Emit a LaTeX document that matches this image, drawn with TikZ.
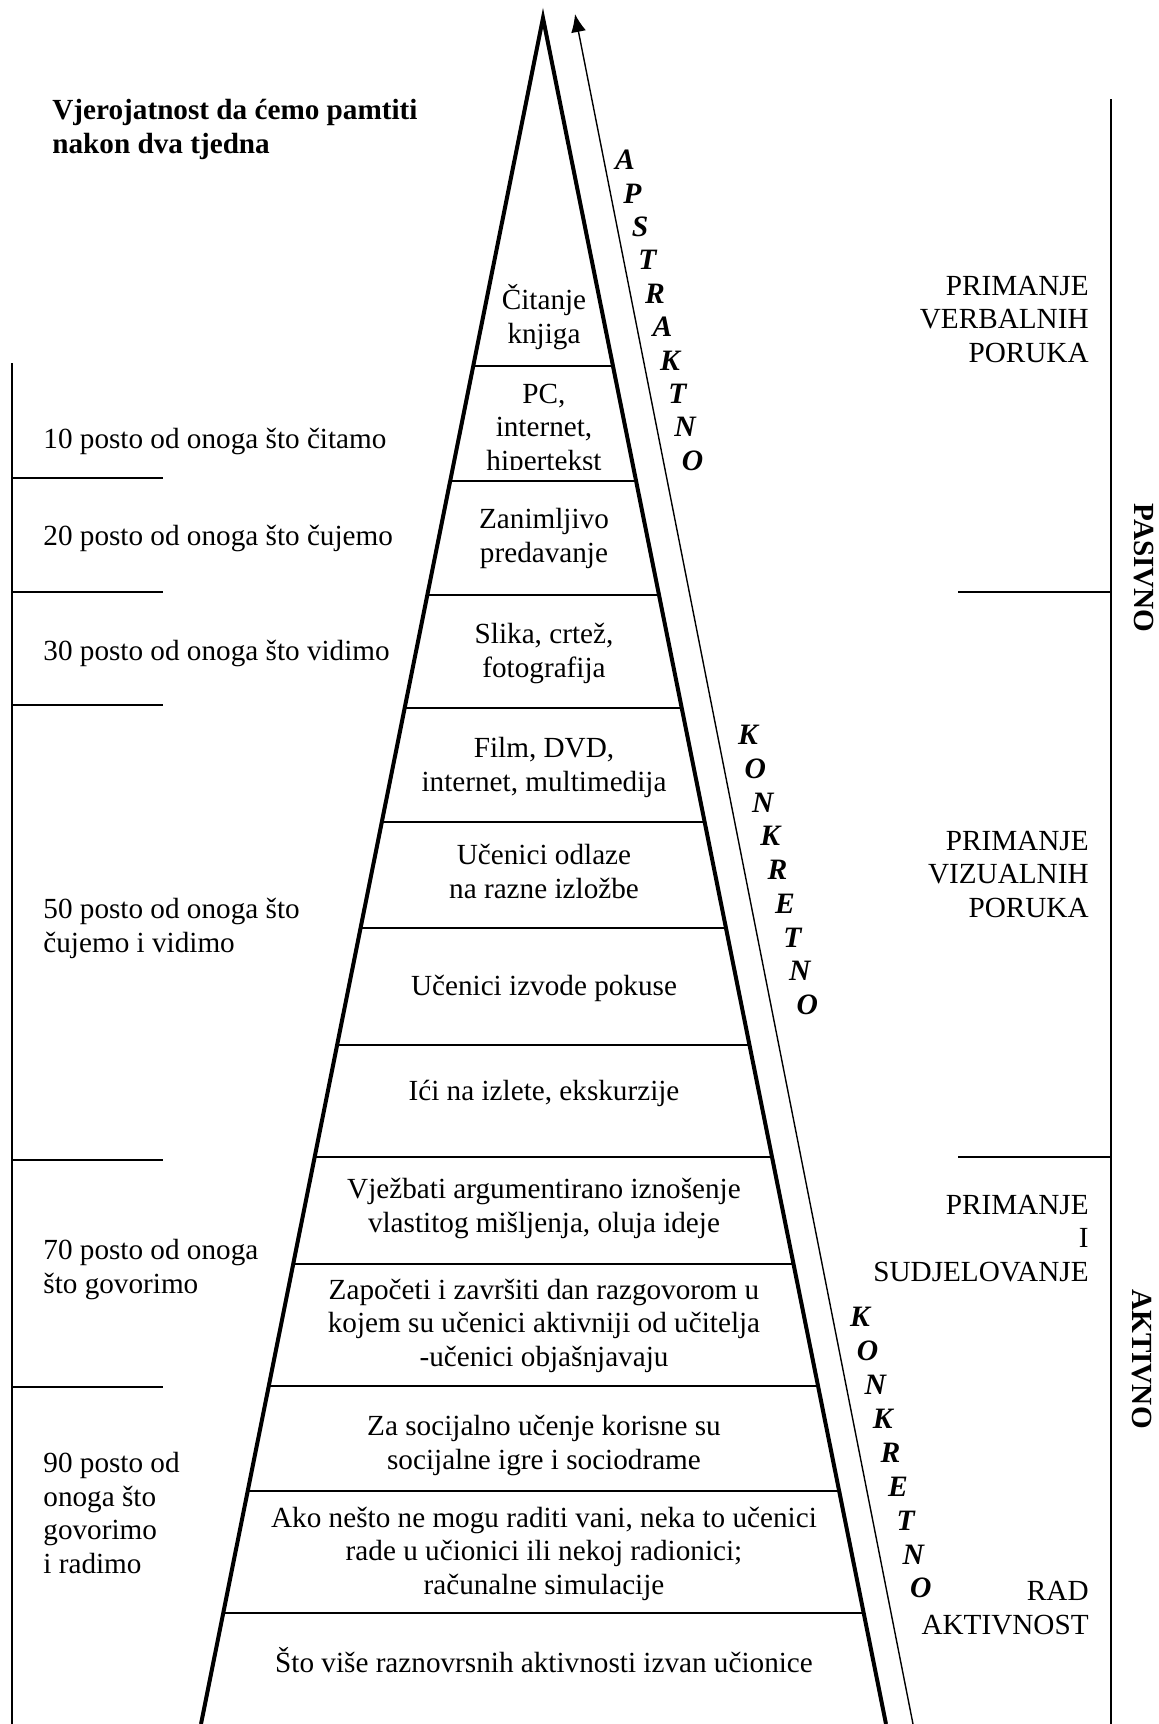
\documentclass[tikz,border=0pt]{standalone}
\usepackage{fontspec}
\setmainfont{Liberation Serif}
\usetikzlibrary{calc,arrows.meta}
\tikzset{
  tekst/.style={inner sep=0pt,align=center,anchor=base,font=\fontsize{14.6}{16.75}\selectfont},
  lijevo/.style={tekst,align=left,anchor=base west},
  desno/.style={tekst,align=right,anchor=base east},
  slovo/.style={inner sep=0pt,font=\fontsize{14.8}{16.75}\selectfont\bfseries\itshape},
  strana/.style={line width=2pt,line join=miter},
  crta/.style={line width=1pt}
}
\begin{document}
\begin{tikzpicture}[x=0.5pt,y=-0.5pt]
  \useasboundingbox (0,0) rectangle (1158,1724);
  \coordinate (vrh) at (543,18);
  \coordinate (dl) at (201,1724);
  \coordinate (dd) at (886,1724);
  \draw[strana] (dl) -- (vrh) -- (dd);
  \foreach \y in {366,481,595,708,822,928,1045,1157,1264,1386,1491,1613}{
    \pgfmathsetmacro\t{(\y-18)/1706}
    \draw[crta] ($(vrh)!\t!(dl)$) -- ($(vrh)!\t!(dd)$);
  }
  \coordinate (strdno) at (913,1724);
  \coordinate (strvrh) at (575,14);
  \draw[line width=0.7pt,-{Latex[length=9pt,width=7.5pt]}] (strdno) -- (strvrh);
  \draw[crta] (12,363) -- (12,1724);
  \foreach \y in {478,592,705,1160,1387} \draw[crta] (12,\y) -- (163,\y);
  \draw[crta] (1111,99) -- (1111,1724);
  \foreach \y in {592,1157} \draw[crta] (958,\y) -- (1111,\y);

  \node[lijevo,font=\fontsize{14.6}{16.75}\selectfont\bfseries] (naslov) at (52,153) {Vjerojatnost da ćemo pamtiti\\nakon dva tjedna};
  \node[lijevo] (p10) at (43,448) {10 posto od onoga što čitamo};
  \node[lijevo] (p20) at (43,545) {20 posto od onoga što čujemo};
  \node[lijevo] (p30) at (43,660) {30 posto od onoga što vidimo};
  \node[lijevo] (p50) at (43,952) {50 posto od onoga što\\čujemo i vidimo};
  \node[lijevo] (p70) at (43,1293) {70 posto od onoga\\što govorimo};
  \node[lijevo] (p90) at (43,1573) {90 posto od\\onoga što\\govorimo\\i radimo};

  \node[tekst] (k1) at (544,343) {Čitanje\\knjiga};
  \begin{scope}
    \clip (400,370) rectangle (700,469);
    \node[tekst] (k2) at (544,470) {PC,\\internet,\\hipertekst};
  \end{scope}
  \node[tekst] (k3) at (544,562) {Zanimljivo\\predavanje};
  \node[tekst] (k4) at (544,677) {Slika, crtež,\\fotografija};
  \node[tekst] (k5) at (544,791) {Film, DVD,\\internet, multimedija};
  \node[tekst] (k6) at (544,898) {Učenici odlaze\\na razne izložbe};
  \node[tekst] (k7) at (544,995) {Učenici izvode pokuse};
  \node[tekst] (k8) at (544,1100) {Ići na izlete, ekskurzije};
  \node[tekst] (k9) at (544,1232) {Vježbati argumentirano iznošenje\\vlastitog mišljenja, oluja ideje};
  \node[tekst] (k10) at (544,1366) {Započeti i završiti dan razgovorom u\\kojem su učenici aktivniji od učitelja\\-učenici objašnjavaju};
  \node[tekst] (k11) at (544,1469) {Za socijalno učenje korisne su\\socijalne igre i sociodrame};
  \node[tekst] (k12) at (544,1594) {Ako nešto ne mogu raditi vani, neka to učenici\\rade u učionici ili nekoj radionici;\\računalne simulacije};
  \node[tekst] (k13) at (544,1672) {Što više raznovrsnih aktivnosti izvan učionice};

  \node[desno] (r1) at (1089,362) {PRIMANJE\\VERBALNIH\\PORUKA};
  \node[desno] (r2) at (1089,917) {PRIMANJE\\VIZUALNIH\\PORUKA};
  \node[desno] (r3) at (1089,1281) {PRIMANJE\\I\\SUDJELOVANJE};
  \node[desno] (r4) at (1089,1634) {RAD\\AKTIVNOST};
  \node[tekst,anchor=center,font=\fontsize{14.6}{16.75}\selectfont\bfseries,rotate=-90] (pasivno) at (1144,568) {PASIVNO};
  \node[tekst,anchor=center,font=\fontsize{14.6}{16.75}\selectfont\bfseries,rotate=-90] (aktivno) at (1142,1359) {AKTIVNO};

  \foreach \l [count=\i from 0] in {A,P,S,T,R,A,K,T,N,O}
    \node[slovo] (aps\i) at (625+7.5*\i,160+33.4*\i) {\l};
  \foreach \l [count=\i from 0] in {K,O,N,K,R,E,T,N,O}
    \node[slovo] (kon\i) at (748+7.4*\i,735+33.75*\i) {\l};
  \foreach \l [count=\i from 0] in {K,O,N,K,R,E,T,N,O}
    \node[slovo] (kod\i) at (860+7.6*\i,1317+33.9*\i) {\l};
\end{tikzpicture}
\end{document}
